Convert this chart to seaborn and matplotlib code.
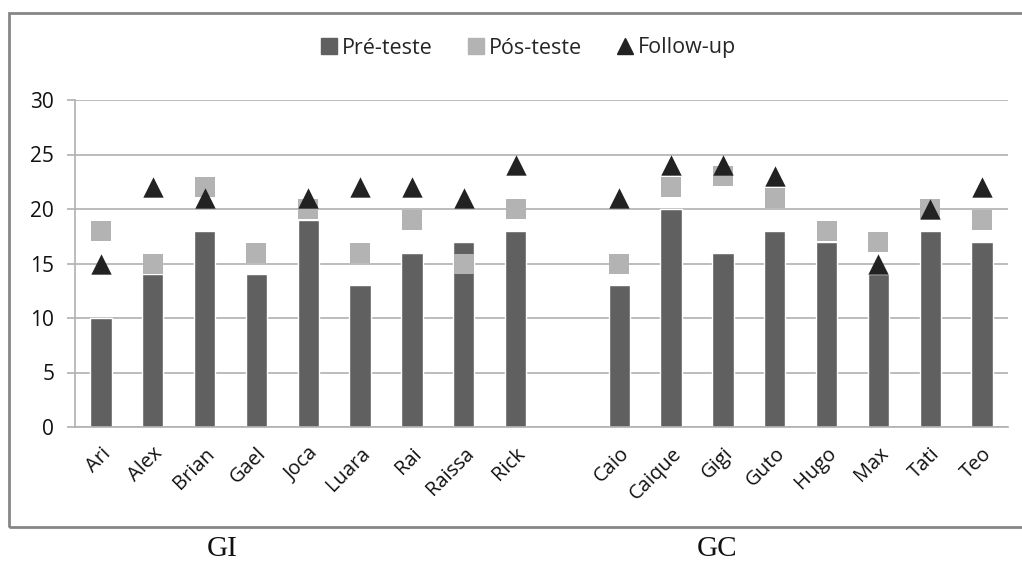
import numpy as np
import pandas as pd
import matplotlib
matplotlib.use("Agg")
import matplotlib.pyplot as plt
from matplotlib.lines import Line2D
from matplotlib.patches import Rectangle
import seaborn as sns

gi_names = ["Ari", "Alex", "Brian", "Gael", "Joca", "Luara", "Rai", "Raissa", "Rick"]
gc_names = ["Caio", "Caique", "Gigi", "Guto", "Hugo", "Max", "Tati", "Teo"]

gi_pre = [10, 14, 18, 14, 19, 13, 16, 17, 18]
gi_pos = [18, 15, 22, 16, 20, 16, 19, 15, 20]
gi_follow = [15, 22, 21, np.nan, 21, 22, 22, 21, 24]

gc_pre = [13, 20, 16, 18, 17, 14, 18, 17]
gc_pos = [15, 22, 23, 21, 18, 17, 20, 19]
gc_follow = [21, 24, 24, 23, np.nan, 15, 20, 22]

series_labels = ["Pré-teste", "Pós-teste", "Follow-up"]
group_labels = ["GI", "GC"]
yticks = [0, 5, 10, 15, 20, 25, 30]

gap = " "
order = gi_names + [gap] + gc_names
df = pd.DataFrame({
    "name": gi_names + gc_names,
    "pre": gi_pre + gc_pre,
    "pos": gi_pos + gc_pos,
    "follow": gi_follow + gc_follow,
})
df["xpos"] = [order.index(n) for n in df["name"]]

sns.set_style("white")
plt.rcParams["font.family"] = ["Open Sans", "DejaVu Sans"]

fig = plt.figure(figsize=(10.22, 5.64), dpi=100)
ax = fig.add_axes([75/1022, 1-427/564, (1008-75)/1022, (427-100)/564])

c_pre, c_pos, c_fol = "#606060", "#b3b3b3", "#222222"
grid_c = "#b0b0b0"

sns.barplot(data=df, x="name", y="pre", order=order, width=0.41, color=c_pre,
            saturation=1, ax=ax, zorder=2)
sns.scatterplot(data=df, x="xpos", y="pos", marker="s", s=215, color=c_pos,
                linewidth=0, ax=ax, zorder=3)
sns.scatterplot(data=df.dropna(subset=["follow"]), x="xpos", y="follow", marker="^",
                s=215, color=c_fol, linewidth=0, ax=ax, zorder=4)

ax.set_ylim(0, 30)
ax.set_xlim(-0.5, len(order) - 0.5)
ax.set_yticks(yticks)
ax.set_yticklabels([str(v) for v in yticks], fontsize=15, color="#111111")
ax.yaxis.grid(True, color=grid_c, linewidth=1.2, zorder=0)
ax.set_axisbelow(True)
ax.set_xticks(range(len(order)))
ax.set_xticklabels(order, rotation=45, ha="right", rotation_mode="anchor",
                   fontsize=14.5, color="#111111")
ax.set_xticks(np.arange(-0.5, len(order), 1), minor=True)
ax.tick_params(axis="x", which="major", length=0, pad=12)
ax.tick_params(axis="x", which="minor", length=7, color=grid_c, width=1.2, direction="out")
ax.tick_params(axis="y", length=6, color=grid_c, width=1.2, direction="out", pad=9, left=True)
ax.set_xlabel("")
ax.set_ylabel("")
for s in ["top", "right"]:
    ax.spines[s].set_visible(False)
for s in ["left", "bottom"]:
    ax.spines[s].set_color(grid_c)
    ax.spines[s].set_linewidth(1.2)

handles = [
    Line2D([], [], marker="s", linestyle="", color=c_pre, markersize=11),
    Line2D([], [], marker="s", linestyle="", color=c_pos, markersize=11),
    Line2D([], [], marker="^", linestyle="", color=c_fol, markersize=11),
]
fig.legend(handles, series_labels, loc="center", bbox_to_anchor=(527/1022, 1-48/564),
           ncol=3, frameon=False, fontsize=15.5, handletextpad=0.1, columnspacing=1.5,
           handlelength=1.0)

fig.patches.append(Rectangle((9/1022, 1-527/564), 1.1, (527-13)/564, transform=fig.transFigure,
                             fill=False, edgecolor="#868686", linewidth=2, zorder=0))

fig.text(222/1022, 1-549/564, group_labels[0], ha="center", va="center",
         fontsize=21, family="Liberation Serif", color="#111111")
fig.text(717/1022, 1-549/564, group_labels[1], ha="center", va="center",
         fontsize=21, family="Liberation Serif", color="#111111")

fig.savefig("out.png", dpi=100)
